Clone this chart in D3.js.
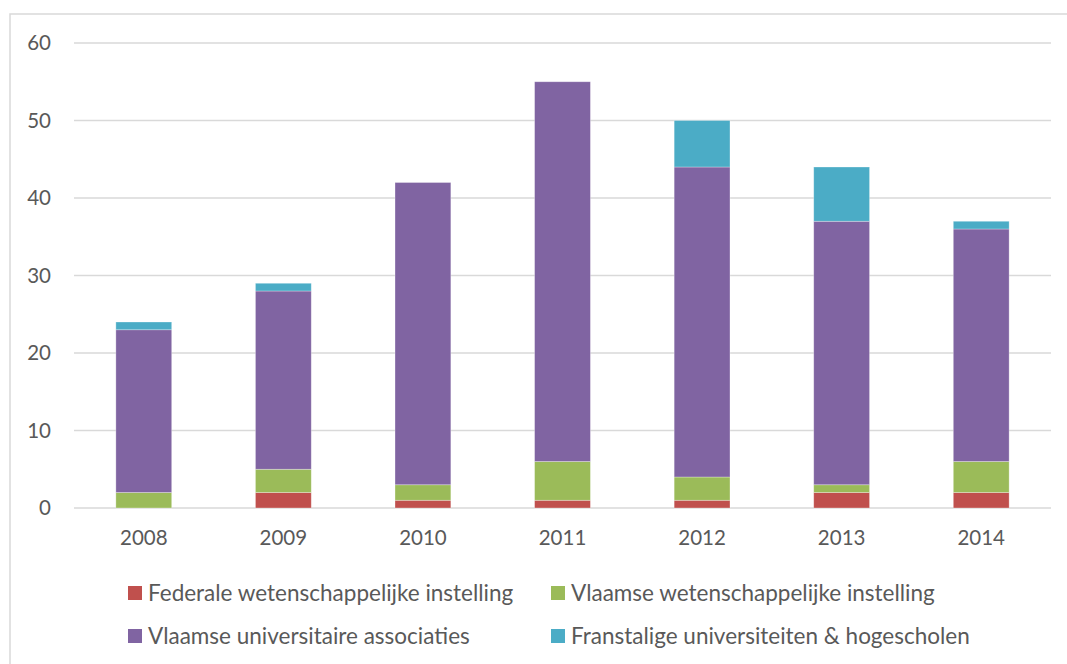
<!DOCTYPE html>
<html>
<head>
<meta charset="utf-8">
<script src="https://cdn.jsdelivr.net/npm/d3@7"></script>
<style>
  body { margin: 0; background: #fff; }
  text { font-family: Lato, "Open Sans", sans-serif; fill: #595959; }
</style>
</head>
<body>
<div id="chart"></div>
<script>
// Data
const years = ["2008", "2009", "2010", "2011", "2012", "2013", "2014"];
const seriesNames = [
  "Federale wetenschappelijke instelling",
  "Vlaamse wetenschappelijke instelling",
  "Vlaamse universitaire associaties",
  "Franstalige universiteiten & hogescholen"
];
const federale = [0, 2, 1, 1, 1, 2, 2];
const vlaamseWet = [2, 3, 2, 5, 3, 1, 4];
const vlaamseUniv = [21, 23, 39, 49, 40, 34, 30];
const franstalige = [1, 1, 0, 0, 6, 7, 1];
const yTicks = [0, 10, 20, 30, 40, 50, 60];
const colors = ["#c0504d", "#9bbb59", "#8064a2", "#4bacc6"];

const W = 1067, H = 664;
const margin = {top: 43, right: 16, bottom: 156, left: 74},
  width = W - margin.left - margin.right,
  height = 508 - margin.top;

const svg = d3.select("#chart").append("svg")
  .attr("width", W)
  .attr("height", H);

// outer chart border
svg.append("rect")
  .attr("x", 10).attr("y", 14)
  .attr("width", W + 10).attr("height", H + 10)
  .attr("fill", "none")
  .attr("stroke", "#d9d9d9")
  .attr("stroke-width", 1.5);

const g = svg.append("g")
  .attr("transform", `translate(${margin.left},${margin.top})`);

// build table for stacking
const table = years.map((yr, i) => ({
  year: yr,
  s0: federale[i], s1: vlaamseWet[i], s2: vlaamseUniv[i], s3: franstalige[i]
}));
const stack = d3.stack().keys(["s0", "s1", "s2", "s3"]);
const stacked = stack(table);

const x = d3.scaleBand()
  .domain(years)
  .range([0, width])
  .paddingInner(0.6)
  .paddingOuter(0.3);

const y = d3.scaleLinear()
  .domain([0, 60])
  .range([height, 0]);

// gridlines
g.append("g")
  .selectAll("line")
  .data(yTicks)
  .join("line")
  .attr("x1", 0).attr("x2", width)
  .attr("y1", d => y(d)).attr("y2", d => y(d))
  .attr("stroke", "#d9d9d9")
  .attr("stroke-width", 1.5);

// y axis labels
const yAxis = g.append("g")
  .call(d3.axisLeft(y).tickValues(yTicks).tickSize(0).tickPadding(23));
yAxis.select(".domain").remove();
yAxis.selectAll("text")
  .style("font-size", "20.5px")
  .attr("fill", "#595959");

// bars
g.append("g")
  .selectAll("g")
  .data(stacked)
  .join("g")
  .attr("fill", (d, i) => colors[i])
  .selectAll("rect")
  .data(d => d.filter(p => p[1] - p[0] > 0))
  .join("rect")
  .attr("x", d => x(d.data.year))
  .attr("y", d => y(d[1]))
  .attr("width", x.bandwidth())
  .attr("height", d => y(d[0]) - y(d[1]))
  .attr("stroke", "#fff")
  .attr("stroke-opacity", 0.4)
  .attr("stroke-width", 0.75);

// x axis labels
const xAxis = g.append("g")
  .attr("transform", `translate(0,${height})`)
  .call(d3.axisBottom(x).tickSize(0).tickPadding(22));
xAxis.select(".domain").remove();
xAxis.selectAll("text")
  .style("font-size", "20.5px")
  .attr("fill", "#595959");

// legend
const legendPos = [[128, 593], [551, 593], [128, 636], [551, 636]];
const legend = svg.append("g")
  .selectAll("g")
  .data(seriesNames)
  .join("g")
  .attr("transform", (d, i) => `translate(${legendPos[i][0]},${legendPos[i][1]})`);
legend.append("rect")
  .attr("x", 0).attr("y", -7)
  .attr("width", 14).attr("height", 14)
  .attr("fill", (d, i) => colors[i]);
legend.append("text")
  .attr("x", 20)
  .attr("dy", "0.35em")
  .style("font-size", "22.5px")
  .text(d => d);
</script>
</body>
</html>
